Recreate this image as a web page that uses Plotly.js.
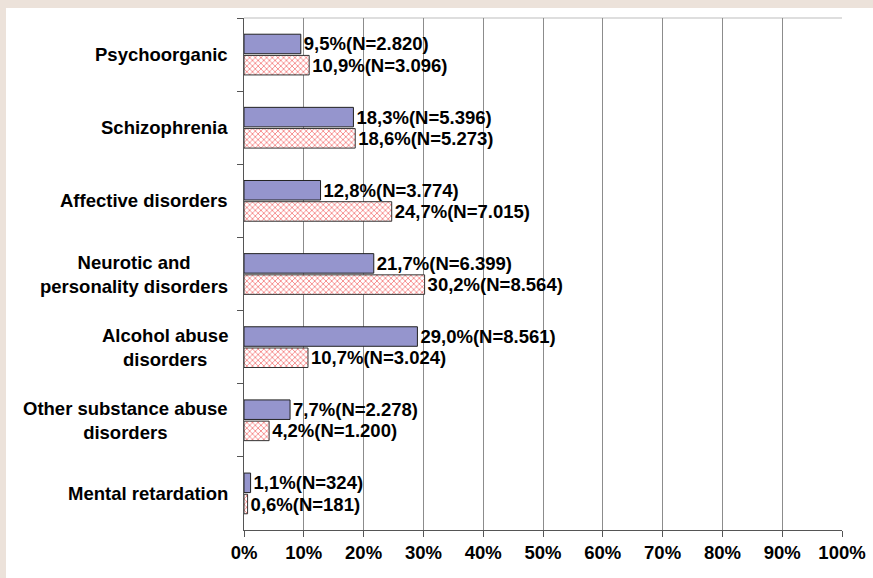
<!DOCTYPE html>
<html>
<head>
<meta charset="utf-8">
<script src="https://cdn.plot.ly/plotly-3.0.1.min.js"></script>
<style>
  html, body { margin: 0; padding: 0; background: #ece2da; width: 873px; height: 578px; overflow: hidden; }
  #chart { position: absolute; left: 6px; top: 8px; width: 867px; height: 570px; background: #fff; }
</style>
</head>
<body>
<div id="chart"></div>
<script>
const categories = [
  "Psychoorganic",
  "Schizophrenia",
  "Affective disorders",
  "Neurotic and<br>personality disorders",
  "Alcohol abuse<br>disorders",
  "Other substance abuse<br>disorders",
  "Mental retardation"
];
const seriesA = [9.5, 18.3, 12.8, 21.7, 29.0, 7.7, 1.1];
const countsA = [2820, 5396, 3774, 6399, 8561, 2278, 324];
const seriesB = [10.9, 18.6, 24.7, 30.2, 10.7, 4.2, 0.6];
const countsB = [3096, 5273, 7015, 8564, 3024, 1200, 181];
const xTicks = [0, 10, 20, 30, 40, 50, 60, 70, 80, 90, 100];
const xTickLabels = ["0%", "10%", "20%", "30%", "40%", "50%", "60%", "70%", "80%", "90%", "100%"];

const font = { family: "Liberation Sans, Arial, sans-serif", size: 18.5, weight: "bold", color: "#000" };

const traceA = {
  type: "bar", orientation: "h",
  y: categories, x: seriesA, customdata: countsA,
  marker: { color: "#9595cd", line: { color: "#222", width: 1 } },
  texttemplate: "%{x:.1f}%(N=%{customdata:,})",
  textposition: "outside", cliponaxis: false, constraintext: "none",
  textfont: font, hoverinfo: "skip", showlegend: false
};
const traceB = {
  type: "bar", orientation: "h",
  y: categories, x: seriesB, customdata: countsB,
  marker: { color: "#ffffff",
            pattern: { shape: "x", fgcolor: "#f25a5a", bgcolor: "#ffffff", size: 4, solidity: 0.3 },
            line: { color: "#333", width: 1 } },
  texttemplate: "%{x:.1f}%(N=%{customdata:,})",
  textposition: "outside", cliponaxis: false, constraintext: "none",
  textfont: font, hoverinfo: "skip", showlegend: false
};

const annotations = categories.map(c => ({
  xref: "paper", yref: "y", x: 0, y: c, xanchor: "right", yanchor: "middle",
  xshift: -14, text: c, align: "center", showarrow: false, font: font
}));

const layout = {
  width: 867, height: 570,
  margin: { l: 238, r: 31, t: 10, b: 48 },
  paper_bgcolor: "#ffffff", plot_bgcolor: "#ffffff",
  separators: ",.",
  barmode: "group", bargap: 0.42, bargroupgap: 0.08,
  xaxis: {
    range: [0, 100], tickmode: "array", tickvals: xTicks, ticktext: xTickLabels,
    showgrid: true, gridcolor: "#8c8c8c", gridwidth: 1,
    zeroline: false, showline: true, linecolor: "#555", linewidth: 1,
    ticks: "outside", ticklen: 6, tickcolor: "#555",
    tickfont: font, fixedrange: true
  },
  yaxis: {
    autorange: "reversed", type: "category",
    showticklabels: false, showgrid: false, zeroline: false,
    showline: true, linecolor: "#555", linewidth: 1,
    ticks: "outside", tickson: "boundaries", ticklen: 6, tickcolor: "#555",
    fixedrange: true
  },
  shapes: [
    { type: "line", xref: "paper", yref: "paper", x0: 0, x1: 1, y0: 1, y1: 1,
      line: { color: "#bdbdbd", width: 1 }, layer: "below" }
  ],
  annotations: annotations
};

Plotly.newPlot("chart", [traceA, traceB], layout, { displayModeBar: false, staticPlot: true });
</script>
</body>
</html>
